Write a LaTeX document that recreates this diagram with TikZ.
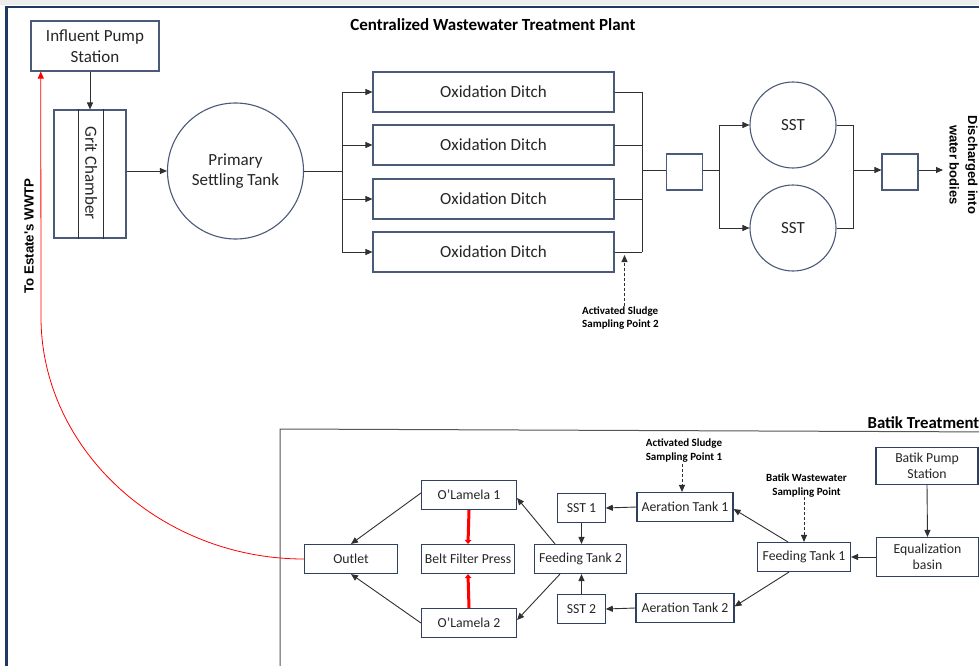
\documentclass[tikz,border=0pt]{standalone}
\usepackage{fontspec}
\setmainfont{Carlito}
\newfontfamily\arialf{Liberation Sans}
\usetikzlibrary{arrows.meta,calc}
\definecolor{framec}{HTML}{1F3864}
\definecolor{boxc}{HTML}{4A5A78}
\definecolor{boxd}{HTML}{2F4060}
\definecolor{linec}{HTML}{303030}
\definecolor{txt}{HTML}{262626}
\definecolor{redc}{HTML}{FF0000}
\definecolor{sepc}{HTML}{555555}
\begin{document}
\begin{tikzpicture}[x=1pt,y=-1pt,
  tip/.style={-{Triangle[length=7pt,width=6pt]}},
  conn/.style={draw=linec, line width=0.9pt},
  dsh/.style={conn, dash pattern=on 3pt off 2pt},
  box/.style={draw=boxc, line width=1.1pt, fill=white, inner sep=0pt, align=center, text=txt, font=\fontsize{17}{21}\selectfont},
  tank/.style={box, circle},
  bbox/.style={draw=boxd, line width=1.1pt, fill=white, inner sep=0pt, align=center, text=txt, font=\fontsize{13.75}{16.5}\selectfont, minimum height=29pt},
  slab/.style={inner sep=0pt, text=black, font=\bfseries\fontsize{11}{13.5}\selectfont},
  redthick/.style={draw=redc, line width=3pt, -{Triangle[length=4pt,width=6.5pt]}}
]
\useasboundingbox (0,0) rectangle (979,666);
\clip (0,0) rectangle (979,666);
\fill[black!7] (0,0) rectangle (979,5.5);
\draw[framec, line width=2.4pt] (6.5,7) rectangle (1100,800);

% ---------- Centralized WWTP ----------
\node[inner sep=0pt, text=black, font=\bfseries\fontsize{17}{20}\selectfont] (title) at (493,24.5) {Centralized Wastewater Treatment Plant};

\node[box, minimum width=128pt, minimum height=50pt] (ips) at (95,46) {Influent Pump\\Station};
\node[box, minimum width=72pt, minimum height=128pt] (grit) at (90,174) {};
\draw[linec, line width=1pt] ($(grit.north west)+(24.7,0)$) -- ($(grit.south west)+(24.7,0)$);
\draw[linec, line width=1pt] ($(grit.north west)+(49.7,0)$) -- ($(grit.south west)+(49.7,0)$);
\node[inner sep=0pt, rotate=-90, text=txt, font=\fontsize{17}{20}\selectfont] (gritlab) at (91.2,173) {Grit Chamber};
\node[tank, minimum size=136pt, font=\fontsize{17}{20}\selectfont] (pst) at (235.5,171) {Primary\\Settling Tank};

\node[box, minimum width=241pt, minimum height=40pt] (od1) at (493.5,92) {Oxidation Ditch};
\node[box, minimum width=241pt, minimum height=40pt] (od2) at (493.5,145) {Oxidation Ditch};
\node[box, minimum width=241pt, minimum height=40pt] (od3) at (493.5,199) {Oxidation Ditch};
\node[box, minimum width=241pt, minimum height=40pt] (od4) at (493.5,252) {Oxidation Ditch};

\node[box, minimum width=35.5pt, minimum height=36pt] (sb1) at (684.5,172) {};
\node[tank, minimum size=86pt] (sst1) at (793,125) {SST};
\node[tank, minimum size=86pt] (sst2) at (793,228) {SST};
\node[box, minimum width=36pt, minimum height=36pt] (sb2) at (900,172) {};

\node[inner sep=0pt, rotate=-90, align=center, text=black, font=\arialf\bfseries\fontsize{13}{18.5}\selectfont] (dis) at (963.5,165) {Discharged into\\water bodies};
\node[inner sep=0pt, rotate=90, text=black, font=\arialf\bfseries\fontsize{13.3}{16}\selectfont] (toest) at (29,236) {To Estate's WWTP};

\coordinate (bA) at (342,171);
\coordinate (bB) at (642,170);
\coordinate (bC) at (719,170);
\coordinate (bD) at (853,170);
\coordinate (out) at (943,170);

\draw[conn,tip] (grit.north |- ips.south) -- (grit.north);
\draw[conn,tip] (grit.east |- pst.west) -- (pst.west);
\draw[conn] (pst.east) -- (bA);
\draw[conn] (bA |- od1.west) -- (bA |- od4.west);
\foreach \n in {od1,od2,od3,od4} {\draw[conn,tip] (bA |- \n.west) -- (\n.west);}
\draw[conn] (od1.east -| bB) -- (od4.east -| bB);
\foreach \n in {od1,od2,od3,od4} {\draw[conn] (\n.east) -- (\n.east -| bB);}
\draw[conn] (bB) -- (sb1.west |- bB);
\draw[conn] (sb1.east |- bC) -- (bC);
\draw[conn] (bC |- sst1.west) -- (bC |- sst2.west);
\draw[conn,tip] (bC |- sst1.west) -- (sst1.west);
\draw[conn,tip] (bC |- sst2.west) -- (sst2.west);
\draw[conn] (sst1.east) -- (sst1.east -| bD) -- (sst2.east -| bD) -- (sst2.east);
\draw[conn,tip] (bD) -- (sb2.west |- bD);
\draw[conn,tip] (sb2.east |- out) -- (out);

\node[slab, align=left, anchor=west] (sp2) at (582,318) {Activated Sludge\\Sampling Point 2};
\coordinate (sp2tip) at (624.5,255);
\draw[dsh,tip] (sp2.north -| sp2tip) -- (sp2tip);

% ---------- Batik treatment ----------
\draw[sepc, line width=1pt] (280,700) -- (280,429) -- (1000,432);
\node[inner sep=0pt, anchor=east, text=black, font=\bfseries\fontsize{16.8}{19}\selectfont] (batik) at (979.5,422.5) {Batik Treatment};

\node[bbox, minimum width=102pt, minimum height=37pt] (bps) at (927,466) {Batik Pump\\Station};
\node[bbox, minimum width=102pt, minimum height=39pt] (eqb) at (927.5,557) {Equalization\\basin};
\node[bbox, minimum width=93pt] (ft1) at (804,557) {Feeding Tank 1};
\node[bbox, minimum width=96pt] (at1) at (685,507) {Aeration Tank 1};
\node[bbox, minimum width=98pt] (at2) at (685,608) {Aeration Tank 2};
\node[bbox, minimum width=47.5pt] (s1) at (581.5,508) {SST 1};
\node[bbox, minimum width=47.5pt] (s2) at (581.5,609) {SST 2};
\node[bbox, minimum width=92.5pt] (ft2) at (580.5,559) {Feeding Tank 2};
\node[bbox, minimum width=95pt] (ol1) at (469,495) {O’Lamela 1};
\node[bbox, minimum width=92.5pt] (bfp) at (468,559) {Belt Filter Press};
\node[bbox, minimum width=95pt] (ol2) at (469,623) {O’Lamela 2};
\node[bbox, minimum width=93pt] (outlet) at (351,559) {Outlet};

\node[slab, align=center] (sp1) at (684,450.5) {Activated Sludge\\Sampling Point 1};
\node[slab, align=center] (bws) at (806.5,485.5) {Batik Wastewater\\Sampling Point};

\draw[conn,tip] (bps.south) -- (eqb.north);
\draw[conn,tip] (eqb.west) -- (ft1.east);
\draw[conn,tip] ($(ft1.north)+(-16,0)$) -- ($(at1.east)+(0,2)$);
\draw[conn,tip] ($(ft1.south)+(-15,0)$) -- ($(at2.east)+(0,-1.5)$);
\draw[dsh,tip] (bws.south -| ft1.north) -- (ft1.north);
\draw[dsh,tip] ($(sp1.south)+(-2,2)$) -- ($(at1.north)+(-3,0)$);
\draw[conn,tip] (at1.west) -- (s1.east);
\draw[conn,tip] (at2.west) -- (s2.east);
\draw[conn,tip] (s1.south) -- (s1.south |- ft2.north);
\draw[conn,tip] (s2.north) -- (s2.north |- ft2.south);
\draw[conn,tip] ($(ft2.north)+(-25.5,0)$) -- ($(ol1.east)+(0,3)$);
\draw[conn,tip] ($(ft2.south)+(-20.5,0)$) -- ($(ol2.east)+(0,-3)$);
\draw[conn,tip] ($(ol1.west)+(0,-2)$) -- (outlet.north);
\draw[conn,tip] (ol2.west) -- (outlet.south);
\draw[redthick] (ol1.south) -- (bfp.north);
\draw[redthick] (ol2.north) -- (bfp.south);

\coordinate (ipsred) at ($(ips.south west)+(10.3,0)$);
\draw[draw=redc, line width=0.8pt, -{Triangle[length=7pt,width=6pt]}] (outlet.west) .. controls (160,559) and (41,449) .. (41,317) -- (ipsred);
\end{tikzpicture}
\end{document}
